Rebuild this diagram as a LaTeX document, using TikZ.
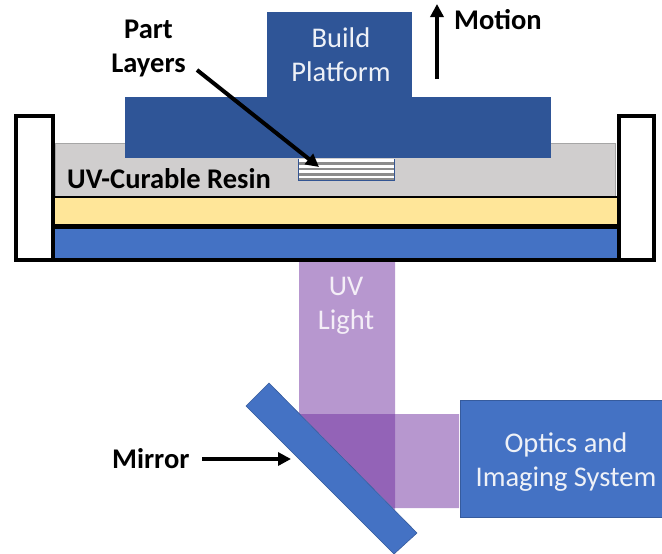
\documentclass[tikz,border=0pt]{standalone}
\usepackage{fontspec}
\setmainfont{Carlito}
\definecolor{platblue}{HTML}{2F5597}
\definecolor{midblue}{HTML}{4472C4}
\definecolor{resin}{HTML}{D0CECE}
\definecolor{yel}{HTML}{FFE699}
\definecolor{uv}{HTML}{7030A0}
\tikzset{
  x=1pt,y=-1pt,
  plat/.style={fill=platblue,draw=none},
  wall/.style={fill=white,draw=black,line width=4pt,line join=miter},
  beam/.style={fill=uv,fill opacity=0.5,draw=none},
  lab/.style={font=\fontsize{28.5}{34}\selectfont\bfseries,text=black,align=center,inner sep=0pt},
  wlab/.style={font=\fontsize{28.5}{34}\selectfont,text=white!92!platblue,align=center,inner sep=0pt},
  callout/.style={draw=black,line width=4pt,-{Triangle[length=13pt,width=13pt]}},
}
\usetikzlibrary{arrows.meta}
\begin{document}
\begin{tikzpicture}
\useasboundingbox (0,0) rectangle (662,554);
% resin and layers
\fill[resin,draw=black!35,line width=1pt] (55,143) rectangle (615,196);
\fill[yel] (55,197) rectangle (617,225);
\fill[midblue] (55,228) rectangle (617,260);
\draw[black,line width=4.5pt] (55,226.5) -- (617,226.5);
\draw[black,line width=2pt] (55,197) -- (617,197);
% platform
\fill[plat] (125,97) rectangle (551,158);
\fill[plat] (267,12) rectangle (412,97);
% walls
\draw[wall] (15.5,115.5) rectangle (53,260);
\draw[wall] (618.5,115.5) rectangle (654,260);
\draw[black,line width=4pt] (53,260) -- (618.5,260);
% part layers
\fill[white] (298,159) rectangle (394,181);
\foreach \yy in {163.5,169,174.5,179}
  \fill[black!45] (298,\yy-1.2) rectangle (394,\yy+1.2);
\draw[midblue!75!black,line width=1pt] (298,158.5) -- (298,180.5) -- (394,180.5) -- (394,158.5);
% beams
\fill[beam] (299,262) -- (395,262) -- (395,510.7) -- (299,413.4) -- cycle;
\fill[beam] (300,414) -- (459,414) -- (459,508) -- (393,508) -- cycle;
% mirror and optics
\fill[midblue,draw=midblue!80!black,line width=0.6pt] (269,383) -- (417,533) -- (394,554) -- (246,406) -- cycle;
\node[fill=midblue,draw=midblue!80!black,line width=0.6pt,minimum width=203pt,minimum height=117pt,inner sep=0pt,anchor=north west] (optics) at (459.5,400) {};
\node[wlab] (opticslab) at (566,462) {Optics and\\Imaging System};
% labels
\node[wlab] (build) at (341,55) {Build\\Platform};
\node[wlab,text=white!92!uv] (light) at (346,306) {UV\\Light};
\node[lab,anchor=west] (resinlab) at (67,179) {UV-Curable Resin};
\node[lab] (partlab) at (148.5,48) {Part\\Layers};
\node[lab,anchor=west] (motionlab) at (454,20) {Motion};
\node[lab,anchor=west] (mirrorlab) at (112,459) {Mirror};
% callouts
\coordinate (a1) at (197,70); \coordinate (a2) at (319,167);
\draw[callout] (a1) -- (a2);
\coordinate (m1) at (202,459); \coordinate (m2) at (291,459);
\draw[callout] (m1) -- (m2);
\coordinate (u1) at (437,79); \coordinate (u2) at (437,4);
\draw[callout] (u1) -- (u2);
\end{tikzpicture}
\end{document}
